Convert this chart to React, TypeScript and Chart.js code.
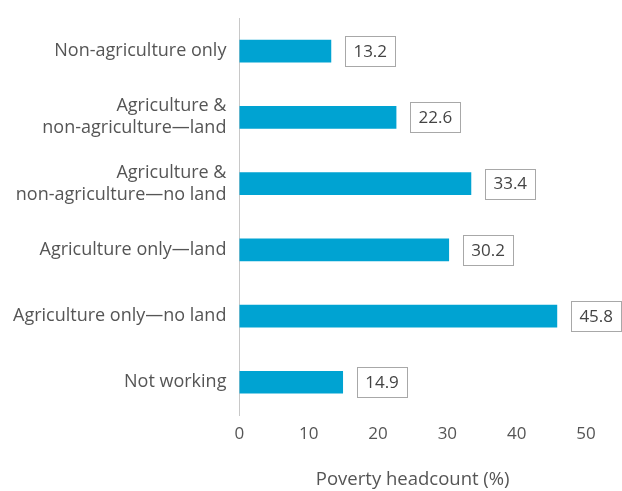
import React, { useEffect, useRef } from "react";
import { Chart, registerables } from "chart.js";

Chart.register(...registerables);

const categories: (string | string[])[] = [
  "Non-agriculture only",
  ["Agriculture &", "non-agriculture\u2014land"],
  ["Agriculture &", "non-agriculture\u2014no land"],
  "Agriculture only\u2014land",
  "Agriculture only\u2014no land",
  "Not working",
];
const values = [13.2, 22.6, 33.4, 30.2, 45.8, 14.9];
const xTicks = [0, 10, 20, 30, 40, 50];
const axisTitle = "Poverty headcount (%)";

const FONT = "'Open Sans', Lato, sans-serif";

const labelBoxPlugin = {
  id: "labelBox",
  afterDatasetsDraw(chart: any) {
    const ctx = chart.ctx;
    const meta = chart.getDatasetMeta(0);
    ctx.save();
    ctx.font = `17px ${FONT}`;
    meta.data.forEach((bar: any, i: number) => {
      const text = values[i].toFixed(1);
      const w = ctx.measureText(text).width + 16;
      const h = 30;
      const x = bar.x + 14;
      const y = bar.y - h / 2;
      ctx.fillStyle = "#fff";
      ctx.fillRect(x, y, w, h);
      ctx.strokeStyle = "#a8a8a8";
      ctx.lineWidth = 1;
      ctx.strokeRect(Math.round(x) + 0.5, Math.round(y) + 0.5, Math.round(w), h);
      ctx.fillStyle = "#444";
      ctx.textAlign = "center";
      ctx.textBaseline = "middle";
      ctx.fillText(text, x + w / 2 + 0.5, bar.y + 1);
    });
    ctx.restore();
  },
};

export default function App() {
  const ref = useRef<HTMLCanvasElement>(null);
  useEffect(() => {
    if (!ref.current) return;
    const chart = new Chart(ref.current, {
      type: "bar",
      data: {
        labels: categories,
        datasets: [
          {
            data: values,
            backgroundColor: "#00a3d2",
            barThickness: 22,
          },
        ],
      },
      options: {
        indexAxis: "y",
        animation: false,
        responsive: true,
        maintainAspectRatio: false,
        layout: { padding: { top: 18, right: 36, bottom: 0, left: 0 } },
        plugins: { legend: { display: false }, tooltip: { enabled: false } },
        scales: {
          x: {
            min: 0,
            max: 50,
            afterBuildTicks: (axis: any) => {
              axis.ticks = xTicks.map((v) => ({ value: v }));
            },
            grid: { display: false, drawTicks: false },
            border: { display: false },
            ticks: { color: "#555", font: { family: FONT, size: 17 }, padding: 9 },
            title: {
              display: true,
              text: axisTitle,
              color: "#555",
              font: { family: FONT, size: 18.5 },
              padding: { top: 15, bottom: 0 },
            },
          },
          y: {
            afterFit: (scale: any) => {
              scale.paddingTop = 0;
              scale.paddingBottom = 0;
            },
            grid: { display: false, drawTicks: false },
            border: { display: true, color: "#c8c8c8", width: 1 },
            ticks: { color: "#555", font: { family: FONT, size: 18, lineHeight: 1.22 }, padding: 13 },
          },
        },
      },
      plugins: [labelBoxPlugin],
    });
    return () => chart.destroy();
  }, []);
  return (
    <div style={{ position: "fixed", left: 0, top: 0, width: 622, height: 491, background: "#fff" }}>
      <canvas ref={ref} />
    </div>
  );
}
